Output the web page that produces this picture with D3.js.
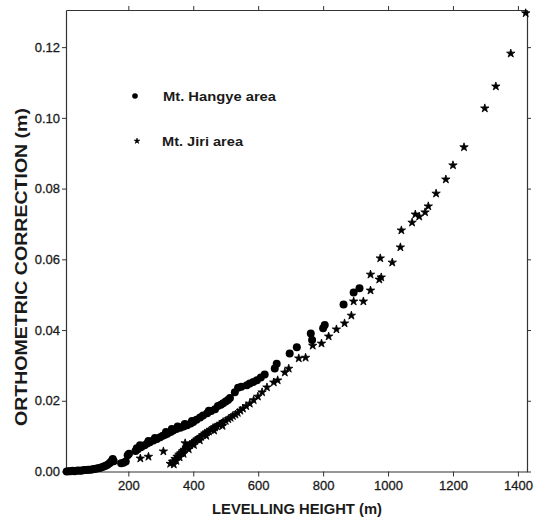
<!DOCTYPE html>
<html><head><meta charset="utf-8">
<script src="https://cdn.jsdelivr.net/npm/d3@7"></script>
<style>body{margin:0;background:#fff}</style></head>
<body><svg id="c" width="540" height="517"></svg>
<script>
const xTicks = [200, 400, 600, 800, 1000, 1200, 1400];
const yTicks = [0, 0.02, 0.04, 0.06, 0.08, 0.10, 0.12];
const seriesNames = ["Mt. Hangye area", "Mt. Jiri area"];
const hangye = [
[10,0.0000],[16,0.0001],[22,0.0001],[28,0.0002],[34,0.0001],[40,0.0002],[46,0.0003],[52,0.0002],
[58,0.0003],[64,0.0004],[70,0.0004],[76,0.0005],[82,0.0005],[88,0.0006],[94,0.0007],[100,0.0008],
[106,0.0009],[112,0.0010],[118,0.0012],[124,0.0014],[130,0.0016],[136,0.0019],[142,0.0023],[146,0.0027],
[150,0.0031],[152,0.0035],[155,0.0029],[178,0.0023],[185,0.0025],[192,0.0028],[198,0.0046],[202,0.0050],
[222,0.0058],[226,0.0066],[228,0.0062],[234,0.0067],[236,0.0074],[240,0.0069],[250,0.0074],[258,0.0079],
[262,0.0086],[266,0.0083],[277,0.0088],[282,0.0095],[288,0.0092],[298,0.0097],[306,0.0101],[313,0.0104],
[316,0.0112],[320,0.0107],[330,0.0112],[334,0.0120],[338,0.0116],[348,0.0120],[352,0.0127],[360,0.0124],
[370,0.0127],[374,0.0134],[381,0.0131],[392,0.0136],[396,0.0143],[400,0.0140],[410,0.0146],[421,0.0153],
[430,0.0158],[443,0.0165],[448,0.0172],[455,0.0171],[467,0.0176],[476,0.0185],[485,0.0189],[492,0.0193],
[500,0.0198],[507,0.0202],[513,0.0208],[528,0.0224],[538,0.0237],[548,0.0240],[565,0.0244],[574,0.0249],
[585,0.0253],[596,0.0258],[608,0.0266],[620,0.0274],[651,0.0291],[657,0.0305],[697,0.0334],[719,0.0351],
[762,0.0390],[766,0.0372],[800,0.0405],[805,0.0414],[863,0.0472],[894,0.0506],[912,0.0518]
];
const jiri = [
[237,0.0037],[262,0.0042],[308,0.0057],[329,0.0022],[336,0.0028],[340,0.0020],[344,0.0036],[348,0.0030],
[350,0.0042],[356,0.0048],[358,0.0040],[362,0.0052],[368,0.0058],[370,0.0050],[372,0.0062],[375,0.0080],
[378,0.0067],[384,0.0071],[386,0.0063],[390,0.0075],[396,0.0079],[400,0.0083],[402,0.0075],[406,0.0087],
[412,0.0091],[418,0.0095],[420,0.0088],[424,0.0098],[430,0.0103],[436,0.0108],[440,0.0101],[442,0.0111],
[448,0.0113],[455,0.0118],[461,0.0123],[464,0.0116],[467,0.0125],[473,0.0128],[480,0.0132],[486,0.0135],
[490,0.0129],[492,0.0140],[500,0.0143],[508,0.0148],[515,0.0152],[522,0.0157],[530,0.0161],[537,0.0166],
[545,0.0172],[553,0.0178],[563,0.0185],[574,0.0192],[586,0.0202],[599,0.0212],[612,0.0224],[627,0.0238],
[648,0.0252],[660,0.0258],[682,0.0280],[694,0.0291],[725,0.0320],[746,0.0322],[768,0.0356],[795,0.0362],
[817,0.0382],[841,0.0402],[866,0.0419],[887,0.0441],[894,0.0481],[924,0.0481],[946,0.0512],[973,0.0543],
[979,0.0549],[946,0.0557],[1013,0.0591],[976,0.0603],[1038,0.0634],[1041,0.0682],[1074,0.0704],[1084,0.0727],
[1096,0.0721],[1114,0.0733],[1124,0.0750],[1148,0.0786],[1178,0.0826],[1200,0.0866],[1234,0.0917],[1298,0.1027],
[1332,0.1089],[1378,0.1182],[1424,0.1296]
];

const svg = d3.select("#c");
const L = 66, R = 527, T = 10, B = 471.5;
const x = d3.scaleLinear().domain([8, 1428]).range([L, R]);
const y = d3.scaleLinear().domain([0, 0.1305]).range([B, T]);
const font = "'Liberation Sans', Arial, Helvetica, sans-serif";
const ink = "#1a1a1a";

function styleAxis(g) {
  g.select(".domain").attr("stroke", "#333").attr("stroke-width", 1.2);
  g.selectAll(".tick line").attr("stroke", "#333").attr("stroke-width", 1);
  g.selectAll(".tick text").attr("font-family", font).attr("font-size", 13)
    .attr("fill", ink).attr("stroke", ink).attr("stroke-width", 0.3);
}
svg.append("g").attr("transform", `translate(0,${B})`)
  .call(d3.axisBottom(x).tickValues(xTicks).tickSize(5).tickSizeOuter(0).tickPadding(4).tickFormat(d3.format("d")))
  .call(styleAxis);
svg.append("g").attr("transform", `translate(0,${T})`)
  .call(d3.axisTop(x).tickValues(xTicks).tickSize(4).tickSizeOuter(0).tickFormat(""))
  .call(styleAxis);
svg.append("g").attr("transform", `translate(${L},0)`)
  .call(d3.axisLeft(y).tickValues(yTicks).tickSize(4).tickSizeOuter(0).tickPadding(2).tickFormat(d3.format(".2f")))
  .call(styleAxis);
svg.append("g").attr("transform", `translate(${R},0)`)
  .call(d3.axisRight(y).tickValues(yTicks).tickSize(4).tickSizeOuter(0).tickFormat(""))
  .call(styleAxis);

// data
svg.append("g").selectAll("circle").data(hangye).join("circle")
  .attr("cx", d => x(d[0])).attr("cy", d => y(d[1])).attr("r", 4).attr("fill", "#000");
const star = d3.symbol().type(d3.symbolStar).size(22);
svg.append("g").selectAll("path").data(jiri).join("path")
  .attr("transform", d => `translate(${x(d[0])},${y(d[1])})`).attr("d", star)
  .attr("fill", "#000").attr("stroke", "#000").attr("stroke-width", 0.8).attr("stroke-linejoin", "round");

// legend
svg.append("circle").attr("cx", 135).attr("cy", 96).attr("r", 2.8).attr("fill", "#000");
svg.append("path").attr("transform", "translate(137,141)").attr("d", d3.symbol().type(d3.symbolStar).size(10)())
  .attr("fill", "#000").attr("stroke", "#000").attr("stroke-width", 0.6);
svg.append("text").attr("x", 163).attr("y", 101).attr("font-family", font).attr("font-weight", "bold")
  .attr("font-size", 13).attr("fill", ink).attr("textLength", 113).attr("lengthAdjust", "spacingAndGlyphs")
  .text(seriesNames[0]);
svg.append("text").attr("x", 162).attr("y", 146).attr("font-family", font).attr("font-weight", "bold")
  .attr("font-size", 13).attr("fill", ink).attr("textLength", 81).attr("lengthAdjust", "spacingAndGlyphs")
  .text(seriesNames[1]);

// axis titles
svg.append("text").attr("x", 297).attr("y", 514).attr("text-anchor", "middle").attr("font-family", font)
  .attr("font-weight", "bold").attr("font-size", 14.5).attr("fill", ink)
  .attr("textLength", 170).attr("lengthAdjust", "spacingAndGlyphs").text("LEVELLING HEIGHT (m)");
svg.append("text").attr("transform", "translate(27,267) rotate(-90)").attr("text-anchor", "middle")
  .attr("font-family", font).attr("font-weight", "bold").attr("font-size", 16).attr("fill", ink)
  .attr("textLength", 318).attr("lengthAdjust", "spacingAndGlyphs").text("ORTHOMETRIC CORRECTION (m)");
</script></body></html>
